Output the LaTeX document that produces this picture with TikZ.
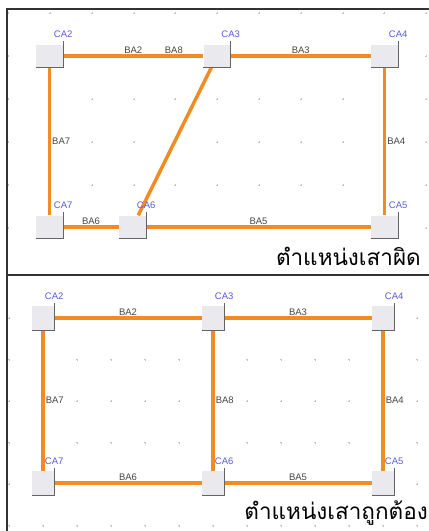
\documentclass[tikz,border=0pt]{standalone}
\usepackage{fontspec}
\setmainfont{Liberation Sans}
\newfontfamily\thaifont[Script=Thai]{Loma}
\definecolor{beamc}{RGB}{240,140,35}
\definecolor{cac}{RGB}{90,90,215}
\definecolor{bac}{RGB}{70,70,70}
\definecolor{boxc}{RGB}{234,234,238}
\definecolor{shc}{RGB}{100,100,100}
\definecolor{gridc}{RGB}{195,195,195}
\begin{document}
\begin{tikzpicture}[x=1pt,y=-1pt,
  col/.style={rectangle, fill=boxc, inner sep=0pt, minimum width=27pt, minimum height=23pt},
  colb/.style={col, minimum width=22pt, minimum height=24pt},
  beam/.style={draw=beamc, line width=3.5pt},
  calab/.style={text=cac, font=\fontsize{9.5}{9.5}\selectfont, inner sep=0pt},
  balab/.style={text=bac, font=\fontsize{9.5}{9.5}\selectfont, inner sep=1pt},
  sh/.style={draw=shc, line width=1pt},
  framel/.style={draw=black!80, line width=1.3pt},
  titl/.style={font=\thaifont\fontsize{22.5}{22.5}\selectfont, inner sep=0pt}]
\useasboundingbox (0,0) rectangle (429,531);
\fill[white] (0,0) rectangle (429,531);
% grid marks
\foreach \x in {8,50,92,134,175,217,259,301,343,384,426}
  \foreach \y in {13,56,99,142,185,228}
    \draw[gridc, line width=0.6pt] (\x-1,\y) -- (\x+1,\y) (\x,\y-1) -- (\x,\y+1);
\foreach \x in {9,43,77,111,145,179,213,247,281,315,349,383,417}
  \foreach \y in {318,359.5,401,442.5,484,525.5}
    \draw[gridc, line width=0.6pt] (\x-1,\y) -- (\x+1,\y) (\x,\y-1) -- (\x,\y+1);
% frames
\draw[framel] (7,531) -- (7,9) -- (429,9);
\draw[framel] (7,275) -- (429,275);
% top panel columns
\node[col] (a2) at (49.5,56) {};
\node[col] (a3) at (217,56) {};
\node[col] (a4) at (384.5,56) {};
\node[col] (a7) at (49.5,227) {};
\node[col] (a6) at (132.5,227) {};
\node[col] (a5) at (384.5,227) {};
% top beams
\draw[beam] (a2) -- node[balab, above, pos=0.5] (ba2t) {BA2} node[balab, above, pos=0.79] (ba8t) {BA8} (a3);
\draw[beam] (a3) -- node[balab, above] (ba3t) {BA3} (a4);
\draw[beam] (a2) -- node[balab, right] (ba7t) {BA7} (a7);
\draw[beam] (a4) -- node[balab, right] (ba4t) {BA4} (a5);
\draw[beam] (a7) -- node[balab, above] (ba6t) {BA6} (a6);
\draw[beam] (a6) -- node[balab, above] (ba5t) {BA5} (a5);
\draw[beam] (a3) -- (a6);
% bottom panel columns
\node[colb] (b2) at (43,318) {};
\node[colb] (b3) at (213,318) {};
\node[colb] (b4) at (383,318) {};
\node[colb] (b7) at (43,483) {};
\node[colb] (b6) at (213,483) {};
\node[colb] (b5) at (383,483) {};
\draw[beam] (b2) -- node[balab, above] (ba2b) {BA2} (b3);
\draw[beam] (b3) -- node[balab, above] (ba3b) {BA3} (b4);
\draw[beam] (b2) -- node[balab, right] (ba7b) {BA7} (b7);
\draw[beam] (b3) -- node[balab, right] (ba8b) {BA8} (b6);
\draw[beam] (b4) -- node[balab, right] (ba4b) {BA4} (b5);
\draw[beam] (b7) -- node[balab, above] (ba6b) {BA6} (b6);
\draw[beam] (b6) -- node[balab, above] (ba5b) {BA5} (b5);
% shadows and labels
\foreach \n/\t in {a2/CA2,a3/CA3,a4/CA4,a7/CA7,a6/CA6,a5/CA5,b2/CA2,b3/CA3,b4/CA4,b7/CA7,b6/CA6,b5/CA5}{
  \draw[sh] ([yshift=3pt]\n.north east) -- (\n.south east) -- (\n.south west);
  \node[calab] (l\n) at ([yshift=10pt]\n.north east) {\t};
}
% titles
\node[titl, anchor=east] (tt) at (421,256) {ตำแหน่งเสาผิด};
\node[titl, anchor=east] (tb) at (428,513) {ตำแหน่งเสาถูกต้อง};
\end{tikzpicture}
\end{document}
